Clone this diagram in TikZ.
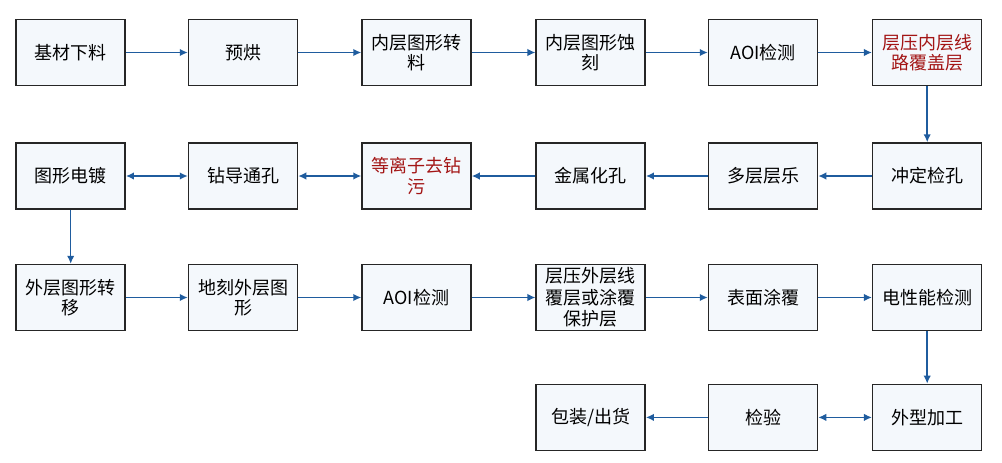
\documentclass[tikz,border=0pt]{standalone}
\usepackage{fontspec}
\setmainfont{Noto Sans CJK SC}
\usetikzlibrary{arrows.meta}
\definecolor{flowblue}{HTML}{1F5C9E}
\definecolor{boxfill}{HTML}{F4F8FC}
\definecolor{darkred}{HTML}{A31515}
\begin{document}
\begin{tikzpicture}[x=1pt,y=-1pt]
		\tikzset{step box/.style={draw=black!85,line width=1.5pt,fill=boxfill,minimum width=109pt,minimum height=66pt,inner sep=0pt,align=center,font=\fontsize{18pt}{20.5pt}\selectfont},
			flow/.style={draw=flowblue,line width=1.5pt,-{Latex[length=8pt,width=7.5pt]}},
			both/.style={draw=flowblue,line width=1.5pt,{Latex[length=8pt,width=7.5pt]}-{Latex[length=8pt,width=7.5pt]}}}
		\useasboundingbox (0,0) rectangle (1002,463);
		\node [step box] (cut) at (70.7,52.5) {基材下料};
		\node [step box] (bake) at (243,52.5) {预烘};
		\node [step box] (intrans) at (416.5,52.5) {内层图形转\\料};
		\node [step box] (inetch) at (590.7,52.5) {内层图形蚀\\刻};
		\node [step box] (aoia) at (763,52.5) {AOI检测};
		\node [step box,text=darkred] (inlam) at (927.2,52.5) {层压内层线\\路覆盖层};
		\node [step box] (punch) at (927.2,176) {冲定检孔};
		\node [step box] (multi) at (763,176) {多层层乐};
		\node [step box] (metal) at (590.7,176) {金属化孔};
		\node [step box,text=darkred] (plasma) at (416.5,176) {等离子去钻\\污};
		\node [step box] (drill) at (243,176) {钻导通孔};
		\node [step box] (plate) at (70.7,176) {图形电镀};
		\node [step box] (outtrans) at (70.7,297.5) {外层图形转\\移};
		\node [step box] (outetch) at (243,297.5) {地刻外层图\\形};
		\node [step box] (aoib) at (416.5,297.5) {AOI检测};
		\node [step box,font=\fontsize{18pt}{21.5pt}\selectfont] (outlam) at (590.7,297.5) {层压外层线\\覆层或涂覆\\保护层};
		\node [step box] (coat) at (763,297.5) {表面涂覆};
		\node [step box] (etest) at (927.2,297.5) {电性能检测};
		\node [step box] (shape) at (927.2,417.4) {外型加工};
		\node [step box] (inspect) at (763,417.4) {检验};
		\node [step box] (ship) at (590.7,417.4) {包装/出货};
		\draw [flow] (cut) -- (bake);
		\draw [flow] (bake) -- (intrans);
		\draw [flow] (intrans) -- (inetch);
		\draw [flow] (inetch) -- (aoia);
		\draw [flow] (aoia) -- (inlam);
		\draw [flow] (inlam) -- (punch);
		\draw [flow] (punch) -- (multi);
		\draw [flow] (multi) -- (metal);
		\draw [flow] (metal) -- (plasma);
		\draw [both] (plasma) -- (drill);
		\draw [both] (drill) -- (plate);
		\draw [flow] (plate) -- (outtrans);
		\draw [flow] (outtrans) -- (outetch);
		\draw [flow] (outetch) -- (aoib);
		\draw [flow] (aoib) -- (outlam);
		\draw [flow] (outlam) -- (coat);
		\draw [flow] (coat) -- (etest);
		\draw [flow] (etest) -- (shape);
		\draw [both] (shape) -- (inspect);
		\draw [flow] (inspect) -- (ship);
		\end{tikzpicture}
\end{document}
